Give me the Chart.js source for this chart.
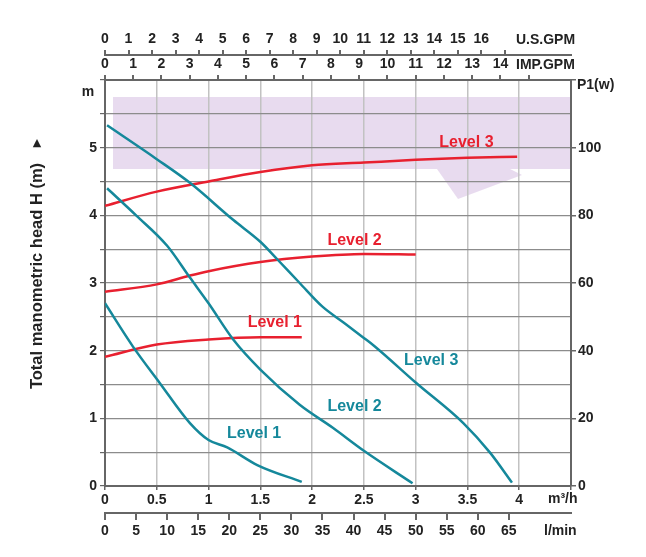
<!DOCTYPE html>
<html>
<head>
<meta charset="utf-8">
<script src="https://cdn.jsdelivr.net/npm/chart.js@4.4.1/dist/chart.umd.min.js"></script>
<style>
  html, body { margin: 0; padding: 0; background: #fff; }
  #wrap { width: 646px; height: 557px; }
</style>
</head>
<body>
<div id="wrap"><canvas id="pumpChart" width="646" height="557"></canvas></div>
<script>
// Head curves: flow (m3/h) -> head (m)
const flowH1 = [0, 0.27, 0.53, 0.82, 1.0, 1.18, 1.47, 1.9];
const headH1 = [2.7, 2.06, 1.52, 0.93, 0.68, 0.57, 0.31, 0.06];
const flowH2 = [0.02, 0.3, 0.6, 0.82, 1.0, 1.24, 1.5, 1.88, 2.2, 2.5, 2.97];
const headH2 = [4.4, 4.0, 3.55, 3.08, 2.7, 2.16, 1.72, 1.2, 0.86, 0.52, 0.04];
const flowH3 = [0.02, 0.5, 0.82, 1.24, 1.5, 1.67, 1.88, 2.1, 2.3, 2.49, 2.6, 3.0, 3.46, 3.72, 3.93];
const headH3 = [5.33, 4.83, 4.48, 3.93, 3.61, 3.34, 3.0, 2.65, 2.42, 2.2, 2.07, 1.53, 0.93, 0.49, 0.05];

// Power curves: flow (m3/h) -> P1 (W)
const flowP1 = [0, 0.5, 1.0, 1.5, 1.9];
const powerP1 = [38.2, 41.8, 43.3, 44, 44];
const flowP2 = [0, 0.5, 0.82, 1.0, 1.5, 2.0, 2.5, 3.0];
const powerP2 = [57.4, 59.6, 62.2, 63.5, 66.2, 67.8, 68.6, 68.4];
const flowP3 = [0, 0.5, 1.0, 1.5, 2.0, 2.5, 3.0, 3.5, 3.98];
const powerP3 = [82.8, 87, 90, 92.8, 94.8, 95.6, 96.4, 97, 97.3];

const curveNames = ['Level 1', 'Level 2', 'Level 3'];

// Axis ranges and unit conversions
const flowMax = 4.5;            // m3/h
const headMax = 6;              // m
const powerMax = 120;           // W
const lminPerM3h = 1000 / 60;
const usGal = 3.785;
const impGal = 4.546;

const teal = '#15889b';
const red = '#e8202f';
const font = { family: "'Liberation Sans', Arial, sans-serif", weight: 'bold', size: 14 };

function pts(xs, ys) { return xs.map((v, i) => ({ x: v, y: ys[i] })); }

function line(label, data, color, axis) {
  return {
    label: label, data: data, yAxisID: axis,
    borderColor: color, borderWidth: 2.5, pointRadius: 0,
    cubicInterpolationMode: 'monotone', fill: false
  };
}

const datasets = [
  line('H ' + curveNames[0], pts(flowH1, headH1), teal, 'y'),
  line('H ' + curveNames[1], pts(flowH2, headH2), teal, 'y'),
  line('H ' + curveNames[2], pts(flowH3, headH3), teal, 'y'),
  line('P1 ' + curveNames[0], pts(flowP1, powerP1), red, 'yP'),
  line('P1 ' + curveNames[1], pts(flowP2, powerP2), red, 'yP'),
  line('P1 ' + curveNames[2], pts(flowP3, powerP3), red, 'yP')
];

function keepTicks(limit) {
  return function(scale) { scale.ticks = scale.ticks.filter(t => t.value <= limit + 1e-6); };
}

// Text, labels and faint background watermark
const extras = {
  id: 'extras',
  beforeDraw(chart) {
    const ctx = chart.ctx, a = chart.chartArea;
    ctx.save();
    ctx.fillStyle = 'rgba(214, 190, 226, 0.55)';
    ctx.fillRect(a.left + 8, 97, a.right - a.left - 8, 72);
    ctx.beginPath();
    ctx.moveTo(437, 169);
    ctx.lineTo(458, 199);
    ctx.lineTo(522, 175);
    ctx.lineTo(510, 169);
    ctx.closePath();
    ctx.fill();
    ctx.restore();
  },
  afterDraw(chart) {
    const ctx = chart.ctx, sx = chart.scales.x, sy = chart.scales.y;
    ctx.save();
    ctx.textBaseline = 'middle';
    ctx.textAlign = 'center';
    ctx.font = "bold 16px 'Liberation Sans', Arial, sans-serif";
    const lbl = (txt, fx, fy, col) => {
      ctx.fillStyle = col;
      ctx.fillText(txt, sx.getPixelForValue(fx), sy.getPixelForValue(fy));
    };
    lbl(curveNames[2], 3.49, 5.07, red);
    lbl(curveNames[1], 2.41, 3.62, red);
    lbl(curveNames[0], 1.64, 2.41, red);
    lbl(curveNames[2], 3.15, 1.86, teal);
    lbl(curveNames[1], 2.41, 1.18, teal);
    lbl(curveNames[0], 1.44, 0.78, teal);

    ctx.fillStyle = '#222';
    ctx.font = "bold 14px 'Liberation Sans', Arial, sans-serif";
    ctx.textAlign = 'left';
    ctx.fillText('U.S.GPM', 516, 40);
    ctx.fillText('IMP.GPM', 516, 65);
    ctx.fillText('P1(w)', 577, 85);
    ctx.fillText('m\u00b3/h', 548, 499);
    ctx.fillText('l/min', 544, 531);
    ctx.textAlign = 'center';
    ctx.fillText('m', 88, 92);

    ctx.save();
    ctx.translate(37, 276);
    ctx.rotate(-Math.PI / 2);
    ctx.font = "bold 16.5px 'Liberation Sans', Arial, sans-serif";
    ctx.fillText('Total manometric head H (m)', 0, 0);
    ctx.restore();
    ctx.font = "11px 'DejaVu Sans', sans-serif";
    ctx.fillText('\u25b2', 37, 143);
    ctx.restore();
  }
};

const ctx = document.getElementById('pumpChart').getContext('2d');
new Chart(ctx, {
  type: 'line',
  data: { datasets: datasets },
  plugins: [extras],
  options: {
    responsive: false,
    devicePixelRatio: 1,
    animation: false,
    layout: { padding: 0 },
    plugins: { legend: { display: false }, tooltip: { enabled: false } },
    scales: {
      x: {
        type: 'linear', position: 'bottom', weight: 0,
        min: 0, max: flowMax,
        afterFit: s => { s.height = 27; },
        border: { color: '#666', width: 2 },
        grid: { color: '#c2c2c2', lineWidth: 1.5, tickLength: 4, tickColor: '#666' },
        ticks: {
          stepSize: 0.5, padding: 2, color: '#222', font: font, maxRotation: 0,
          callback: v => (v <= 4 ? String(v) : '')
        }
      },
      xl: {
        type: 'linear', position: 'bottom', weight: 1,
        min: 0, max: flowMax * lminPerM3h,
        afterFit: s => { s.height = 44; },
        afterBuildTicks: keepTicks(65),
        border: { color: '#666', width: 2 },
        grid: { drawOnChartArea: false, tickLength: 7, color: '#666', lineWidth: 2 },
        ticks: { stepSize: 5, padding: 3, color: '#222', font: font, maxRotation: 0, autoSkip: false }
      },
      xi: {
        type: 'linear', position: 'top', weight: 0,
        min: 0, max: flowMax * lminPerM3h / impGal,
        afterFit: s => { s.height = 25; },
        afterBuildTicks: keepTicks(15),
        border: { color: '#666', width: 2 },
        grid: { drawOnChartArea: false, tickLength: 5, color: '#666', lineWidth: 2 },
        ticks: {
          stepSize: 1, padding: 2, color: '#222', font: font, maxRotation: 0, autoSkip: false,
          callback: v => (v <= 14 ? String(v) : '')
        }
      },
      xu: {
        type: 'linear', position: 'top', weight: 1,
        min: 0, max: flowMax * lminPerM3h / usGal,
        afterFit: s => { s.height = 55; },
        afterBuildTicks: keepTicks(17),
        border: { color: '#666', width: 2 },
        grid: { drawOnChartArea: false, tickLength: 5, color: '#666', lineWidth: 2 },
        ticks: {
          stepSize: 1, padding: 2, color: '#222', font: font, maxRotation: 0, autoSkip: false,
          callback: v => (v <= 16 ? String(v) : '')
        }
      },
      y: {
        type: 'linear', position: 'left',
        min: 0, max: headMax,
        afterFit: s => { s.width = 105; },
        border: { color: '#666', width: 2 },
        grid: { color: '#8c8c8c', lineWidth: 1.2, tickLength: 5, tickColor: '#666' },
        ticks: {
          stepSize: 0.5, padding: 3, color: '#222', font: font,
          callback: v => (Number.isInteger(v) && v <= 5 ? String(v) : '')
        }
      },
      yP: {
        type: 'linear', position: 'right',
        min: 0, max: powerMax,
        afterFit: s => { s.width = 75; },
        border: { color: '#666', width: 2 },
        grid: { drawOnChartArea: false, tickLength: 5, color: '#666', lineWidth: 1.5 },
        ticks: {
          stepSize: 20, padding: 2, color: '#222', font: font,
          callback: v => (v <= 100 ? String(v) : '')
        }
      }
    }
  }
});
</script>
</body>
</html>
